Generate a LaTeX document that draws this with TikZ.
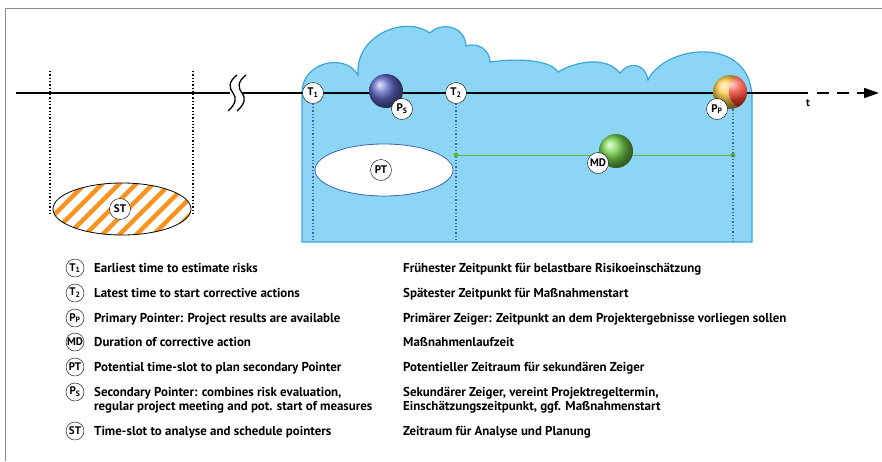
\documentclass[tikz,border=0pt]{standalone}
\usepackage{fontspec}
\setmainfont{PT Sans}[BoldFont={PT Sans Bold}]
\usetikzlibrary{arrows.meta,shapes.geometric}
\definecolor{skyfill}{HTML}{8DD5F4}
\definecolor{skyline}{HTML}{3AA6DD}
\definecolor{dotblue}{HTML}{3A66B0}
\definecolor{mdgreen}{HTML}{5DB53B}
\definecolor{mdball}{HTML}{78D24A}
\definecolor{psblue}{HTML}{6068C8}
\definecolor{ppyellow}{HTML}{FCC844}
\definecolor{ppred}{HTML}{F03A2A}
\definecolor{hatch}{HTML}{F7931E}
\definecolor{framegray}{HTML}{8A8A8A}

\begin{document}
\begin{tikzpicture}[x=1pt,y=-1pt,
  lbl/.style={circle,draw,fill=white,inner sep=0pt,minimum size=21pt,font=\bfseries\fontsize{11}{11}\selectfont},
  leglbl/.style={lbl,minimum size=18pt,font=\bfseries\fontsize{11}{11}\selectfont},
  legtext/.style={anchor=north west,inner sep=0pt,align=left,font=\bfseries\fontsize{12.9}{14}\selectfont},
  pointer/.style={circle,inner sep=0pt,minimum size=34pt,shading=ball},
  vdots/.style={dotted,line width=1.3pt},
  slot/.style={ellipse,inner sep=0pt,minimum width=138pt,minimum height=52pt}]
\useasboundingbox (0,0) rectangle (882,461);
\draw[framegray,line width=0.8pt] (5,461) -- (5,8) -- (882,8);

\filldraw[fill=skyfill,draw=skyline,line width=1.2pt] (302,242) -- (302,95)
  .. controls (300,62) and (345,52) .. (358,75)
  .. controls (355,35) and (405,15) .. (430,33)
  .. controls (440,22) and (465,25) .. (466,46)
  .. controls (478,42) and (490,50) .. (490,62)
  .. controls (520,58) and (550,60) .. (558,72)
  .. controls (575,62) and (605,55) .. (620,73)
  .. controls (628,62) and (645,62) .. (648,80)
  .. controls (665,45) and (748,35) .. (752,95)
  -- (752,242) -- cycle;

\coordinate (st0) at (50,71);  \coordinate (st0b) at (50,216);
\coordinate (st1) at (193,71); \coordinate (st1b) at (193,216);
\draw[vdots] (st0) -- (st0b);
\draw[vdots] (st1) -- (st1b);

\coordinate (t0) at (16,93);
\coordinate (brkl) at (230,93);
\coordinate (brkr) at (242,93);
\coordinate (tend) at (808,93);
\coordinate (tarrow) at (879,93);
\draw[line width=1.6pt] (t0) -- (brkl);
\draw[line width=1.6pt] (brkr) -- (tend);
\draw[line width=1.6pt,dash pattern=on 12pt off 8pt,-{Triangle[length=15pt,width=10pt]}]
  ([xshift=9pt]tend) -- (tarrow);
\draw[line width=1.3pt] (237,75) .. controls (228,82) and (229,88) .. (233,93)
  .. controls (237,98) and (236,104) .. (228,111);
\draw[line width=1.3pt] (246,75) .. controls (237,82) and (238,88) .. (242,93)
  .. controls (246,98) and (245,104) .. (237,111);
\node[font=\bfseries\fontsize{11}{11}\selectfont] (tlab) at (808,103) {t};

\node (stslot) [slot,draw,line width=0.8pt,path picture={
  \foreach \s in {-130,-113,...,130}
    \draw[hatch,line width=4.5pt] ([xshift=\s pt-40pt,yshift=-40pt]path picture bounding box.center) -- ++(80,-80);
  }] at (122,209) {};
\node[lbl] (st) at (120,209) {ST};

\node (t1) [lbl] at (313,93) {T\textsubscript{1}};
\node (t2) [lbl] at (456,93) {T\textsubscript{2}};
\coordinate (t1b) at (313,242);
\coordinate (t2b) at (456,242);
\coordinate (ppb) at (733,242);
\draw[vdots,dotblue] (t1) -- (t1b);
\draw[vdots,dotblue] (t2) -- (t2b);

\node (ptslot) [slot,draw=dotblue,fill=white,line width=0.8pt] at (384,170) {};
\node[lbl] (pt) at (381,170) {PT};

\coordinate (mds) at (456,155);
\coordinate (mde) at (733,155);
\draw[mdgreen,line width=1pt] (mds) -- (mde);
\fill[mdgreen] (mds) circle[radius=2.5pt] (mde) circle[radius=2.5pt];

\node (psball) [pointer,ball color=psblue] at (386,91) {};
\node[lbl] (ps) at (402,109) {P\textsubscript{S}};

\node (ppball) [pointer,ball color=ppyellow,path picture={
  \shade[ball color=ppred] ([xshift=18pt,yshift=1pt]path picture bounding box.center) circle[radius=19pt];
  }] at (730,92) {};
\draw[vdots,dotblue] (ppb |- ppball.south) -- (ppb);
\node[lbl] (pp) at (717,109) {P\textsubscript{P}};

\node (mdb) [pointer,ball color=mdball] at (616,151) {};
\node[lbl] (md) at (598,163) {MD};

\foreach \n/\lab/\yy/\en/\de in {
  1/{T\textsubscript{1}}/268/{Earliest time to estimate risks}/{Frühester Zeitpunkt für belastbare Risikoeinschätzung},
  2/{T\textsubscript{2}}/293/{Latest time to start corrective actions}/{Spätester Zeitpunkt für Maßnahmenstart},
  3/{P\textsubscript{P}}/318/{Primary Pointer: Project results are available}/{Primärer Zeiger: Zeitpunkt an dem Projektergebnisse vorliegen sollen},
  4/{MD}/342/{Duration of corrective action}/{Maßnahmenlaufzeit},
  5/{PT}/367/{Potential time-slot to plan secondary Pointer}/{Potentieller Zeitraum für sekundären Zeiger},
  6/{P\textsubscript{S}}/392/{Secondary Pointer: combines risk evaluation,\\regular project meeting and pot. start of measures}/{Sekundärer Zeiger, vereint Projektregeltermin,\\Einschätzungszeitpunkt, ggf. Maßnahmenstart},
  7/{ST}/431/{Time-slot to analyse and schedule pointers}/{Zeitraum für Analyse und Planung}}
{
  \node[leglbl] (leg\n) at (75,\yy) {\lab};
  \node[legtext] (en\n) at (94,\yy-5) {\en};
  \node[legtext] (de\n) at (403,\yy-5) {\de};
}
\end{tikzpicture}
\end{document}
